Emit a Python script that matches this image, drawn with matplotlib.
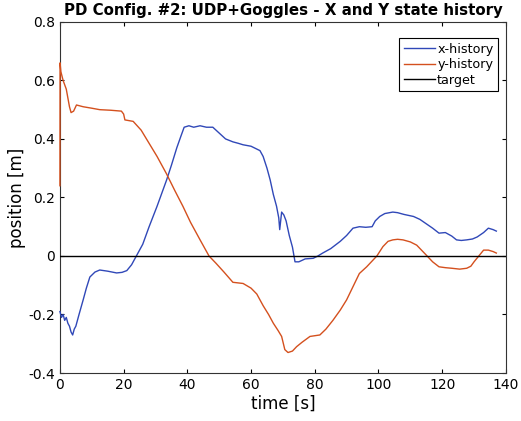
import matplotlib
matplotlib.use("Agg")
import matplotlib.pyplot as plt

# x-position history (time [s], position [m])
t_x = [0, 0.5, 1, 1.5, 2, 2.5, 3, 3.5, 4, 4.5, 5, 6, 7.3, 8.3, 9.4, 11, 12.5, 15, 17.8, 19.5, 21, 22.5,
       24, 26, 28, 30.5, 33.5, 35, 36.7, 38, 39, 40.5, 42, 44, 46, 48, 50, 52, 54.3, 56, 57.5, 60, 62.8,
       63.8, 65, 66, 67, 68, 68.7, 69, 69.6, 70.3, 71, 72, 73, 73.8, 75, 77, 79.5, 81, 82.5, 85, 88, 90,
       92, 94, 96, 98, 99, 100.4, 102, 104.5, 106, 108, 111, 113, 115, 117, 119, 121, 123, 124.5, 126,
       127.7, 129.5, 131, 133, 134.5, 136, 137]
x_hist = [-0.19, -0.21, -0.20, -0.22, -0.21, -0.23, -0.24, -0.26, -0.27, -0.25, -0.24, -0.20, -0.15,
          -0.11, -0.072, -0.055, -0.048, -0.052, -0.058, -0.056, -0.05, -0.03,
          0.0, 0.04, 0.10, 0.17, 0.26, 0.31, 0.37, 0.41, 0.44, 0.445, 0.44, 0.445, 0.44, 0.44, 0.42,
          0.40, 0.39, 0.385, 0.38, 0.375, 0.36,
          0.34, 0.30, 0.26, 0.21, 0.17, 0.13, 0.09, 0.15, 0.14, 0.12, 0.07, 0.03, -0.02, -0.02, -0.01,
          -0.008, 0.0, 0.01, 0.025, 0.05, 0.07,
          0.095, 0.10, 0.098, 0.10, 0.12, 0.135, 0.145, 0.15, 0.148, 0.142, 0.135, 0.125, 0.11, 0.095,
          0.078, 0.08, 0.068, 0.055, 0.053,
          0.055, 0.058, 0.065, 0.08, 0.095, 0.09, 0.085]

# y-position history (time [s], position [m])
t_y = [0, 0.05, 0.3, 1, 2, 3, 3.5, 4.3, 5.2, 7.3, 10, 12.5, 16, 19.3, 20, 20.4, 23, 25.5, 28, 30.5,
       33.5, 36, 38.6, 41, 44, 46.8, 49, 51.5, 54.3, 57.5, 60, 61.8, 63.8, 65.5, 67, 68.5, 69.6, 70.6,
       71.6, 73, 74.3, 76, 78.5, 81.6, 83.5, 85.7, 88, 90, 92, 94, 96.3, 99.5, 101.4, 103, 104.5, 106,
       107.7, 110, 112, 115, 117, 119, 121, 123, 125.5, 127.7, 129, 130, 131.5, 133, 134.5, 136, 137]
y_hist = [0.24, 0.66, 0.63, 0.60, 0.57, 0.51, 0.49, 0.495, 0.516, 0.51, 0.505, 0.50, 0.498, 0.495,
          0.485, 0.465, 0.46, 0.43, 0.385, 0.34,
          0.28, 0.225, 0.17, 0.115, 0.055, 0.0, -0.025, -0.055, -0.09, -0.094, -0.11, -0.13, -0.17,
          -0.20, -0.23, -0.255, -0.275, -0.32,
          -0.33, -0.325, -0.31, -0.295, -0.275, -0.27, -0.25, -0.22, -0.185, -0.15, -0.105, -0.06,
          -0.037, 0.0, 0.032, 0.05, 0.055, 0.057,
          0.055, 0.048, 0.037, 0.003, -0.02, -0.037, -0.04, -0.042, -0.045, -0.042, -0.035, -0.02,
          0.0, 0.02, 0.02, 0.015, 0.01]

t_target = [0, 140]
target = [0, 0]

fig = plt.figure(figsize=(5.21, 4.21), dpi=100)
ax = fig.add_axes([0.115, 0.114, 0.856, 0.834])

ax.plot(t_x, x_hist, color="#3048b8", lw=1.0, label="x-history", zorder=3, clip_on=False)
ax.plot(t_y, y_hist, color="#d4501e", lw=1.0, label="y-history", zorder=3, clip_on=False)
ax.plot(t_target, target, color="black", lw=1.0, label="target", zorder=3)

ax.set_xlim(0, 140)
ax.set_ylim(-0.4, 0.8)
ax.set_xticks(range(0, 141, 20))
ax.set_yticks([-0.4, -0.2, 0, 0.2, 0.4, 0.6, 0.8])
ax.set_yticklabels(["-0.4", "-0.2", "0", "0.2", "0.4", "0.6", "0.8"])
ax.tick_params(direction="in", top=True, right=True, length=3, labelsize=10, width=0.8)
for s in ax.spines.values():
    s.set_linewidth(0.8)
    s.set_color("#333333")

ax.set_xlabel("time [s]", fontsize=12, labelpad=2)
ax.set_ylabel("position [m]", fontsize=12, labelpad=2)
ax.set_title("PD Config. #2: UDP+Goggles - X and Y state history", fontsize=10.8,
             fontweight="bold", pad=5)

leg = ax.legend(loc="upper right", bbox_to_anchor=(0.982, 0.954), borderaxespad=0,
                fontsize=9.2, fancybox=False, edgecolor="black", framealpha=1,
                borderpad=0.35, handlelength=2.4, handletextpad=0.2, labelspacing=0.2)
leg.get_frame().set_linewidth(0.8)

fig.savefig("out.png", dpi=100)
